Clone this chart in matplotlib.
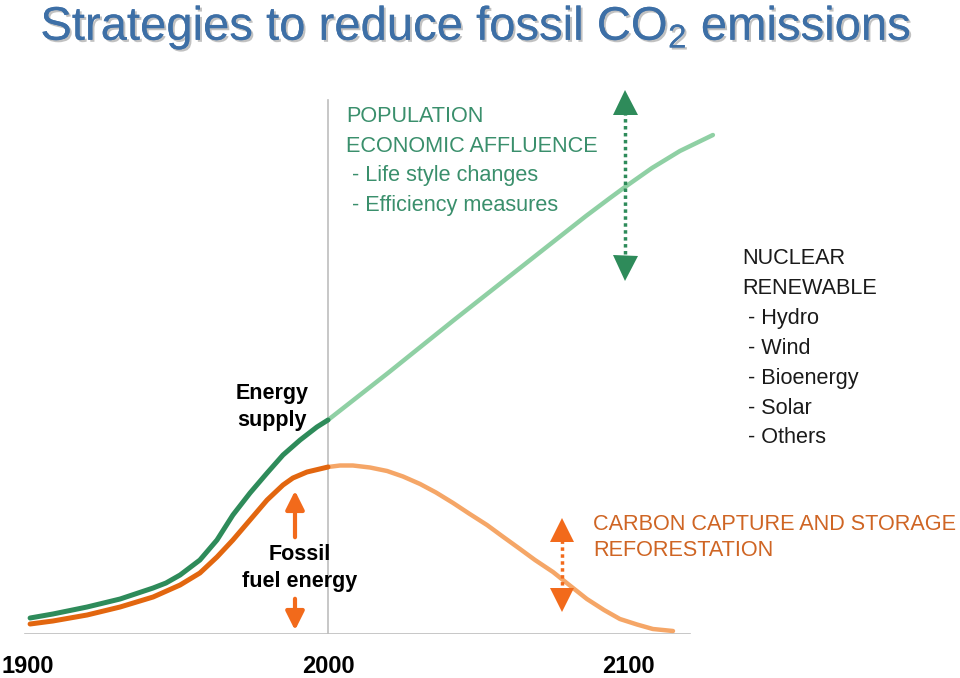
import matplotlib
matplotlib.use("Agg")
import matplotlib.pyplot as plt
import matplotlib.patheffects as pe
from matplotlib import font_manager

# energy supply (baseline = 0)
supply_years = [1900.7, 1908.3, 1919.7, 1930.7, 1941.7, 1946, 1950.7, 1957.3, 1963, 1968.3,
                1974, 1979.7, 1985, 1990.7, 1996.3, 2000]
supply_vals = [16, 20, 27, 35, 46, 51, 59, 74, 94, 119, 141, 161, 179, 194, 207, 214]
supply_future_years = [2000, 2020, 2042, 2064, 2086, 2094, 2099, 2108, 2117.3, 2128.3]
supply_future_vals = [214, 261, 314, 366, 418, 436, 447, 466, 483, 499]

# fossil fuel energy
fossil_years = [1900.7, 1908.3, 1919.7, 1930.7, 1941.7, 1950.7, 1957.3, 1963, 1968.3,
                1974, 1979.7, 1985, 1988.3, 1993, 2000]
fossil_vals = [10, 13, 19, 27, 37, 49, 61, 77, 94, 114, 134, 149, 156, 162, 167]
fossil_future_years = [2000, 2004, 2008.3, 2014, 2019.7, 2025, 2030.7, 2036, 2041.7, 2047,
                       2053, 2058, 2064, 2069, 2075, 2080, 2086.3, 2092, 2097.3, 2103,
                       2108.3, 2115]
fossil_future_vals = [167, 168.5, 168.5, 166.5, 163, 157.5, 150, 141.5, 131, 120.5, 109,
                      98, 85, 74, 62, 50, 35, 24, 15, 9.5, 5, 3]

tick_years = [1900, 2000, 2100]
tick_labels = ["1900", "2000", "2100"]

green_text = ["POPULATION", "ECONOMIC AFFLUENCE", " - Life style changes", " - Efficiency measures"]
black_text = ["NUCLEAR", "RENEWABLE", " - Hydro", " - Wind", " - Bioenergy", " - Solar", " - Others"]
orange_text = ["CARBON CAPTURE AND STORAGE", "REFORESTATION"]

DK_GREEN = "#2e8b5a"
LT_GREEN = "#8fd0a4"
DK_ORANGE = "#e2660f"
LT_ORANGE = "#f5a667"
TXT_GREEN = "#3a8f6c"
TXT_ORANGE = "#cf6524"
ARR_ORANGE = "#f26a1b"

installed = {f.name for f in font_manager.fontManager.ttflist}
if "Liberation Sans Narrow" in installed:
    title_font, title_size = "Liberation Sans Narrow", 33
else:
    title_font, title_size = "Liberation Sans", 34

fig = plt.figure(figsize=(9.6, 6.78), dpi=100)
ax = fig.add_axes([0, 44 / 678, 1, 634 / 678])
ax.set_xlim(2000 - 328 / 3, 2000 + 632 / 3)
ax.set_ylim(0, 634)
for s in ax.spines.values():
    s.set_visible(False)
ax.set_yticks([])
ax.set_xticks(tick_years)
ax.set_xticklabels(tick_labels, fontsize=17, fontweight="bold", family="Liberation Sans")
ax.tick_params(axis="x", length=0, pad=15)

# baseline and 2000 marker
ax.plot([1899, 2120.7], [0, 0], color="#bdbdbd", lw=1.2)
ax.plot([2000, 2000], [0, 534], color="#bdbdbd", lw=1.2)

kw = dict(solid_capstyle="round", solid_joinstyle="round")
ax.plot(supply_future_years, supply_future_vals, color=LT_GREEN, lw=3.2, **kw)
ax.plot(supply_years, supply_vals, color=DK_GREEN, lw=3.6, **kw)
ax.plot(fossil_future_years, fossil_future_vals, color=LT_ORANGE, lw=3.2, **kw)
ax.plot(fossil_years, fossil_vals, color=DK_ORANGE, lw=3.6, **kw)

# dotted double arrows
ax.plot([2099, 2099], [380, 526], color=DK_GREEN, lw=2.5, ls=(0, (1, 1)))
ax.plot([2099], [532], marker="^", ms=18, color=DK_GREEN, mew=0)
ax.plot([2099], [366], marker="v", ms=18, color=DK_GREEN, mew=0)
ax.plot([2078, 2078], [42, 96], color=ARR_ORANGE, lw=2.5, ls=(0, (1, 1)))
ax.plot([2078], [104], marker="^", ms=17, color=ARR_ORANGE, mew=0)
ax.plot([2078], [34], marker="v", ms=17, color=ARR_ORANGE, mew=0)

# solid fossil arrows
ax.annotate("", xy=(1989, 146), xytext=(1989, 94),
            arrowprops=dict(arrowstyle="-|>", lw=3, color=ARR_ORANGE, mutation_scale=28))
ax.annotate("", xy=(1989, 1), xytext=(1989, 38),
            arrowprops=dict(arrowstyle="-|>", lw=3, color=ARR_ORANGE, mutation_scale=28))

fnt = "Liberation Sans"
ax.text(1981.3, 227, "Energy\nsupply", ha="center", va="center", fontsize=15.5,
        fontweight="bold", family=fnt, linespacing=1.35)
ax.text(1990.7, 66, "Fossil\nfuel energy", ha="center", va="center", fontsize=15.5,
        fontweight="bold", family=fnt, linespacing=1.35)

for i, t in enumerate(green_text):
    ax.text(2006, 517 - i * 29.5, t, ha="left", va="center", fontsize=15.6,
            color=TXT_GREEN, family=fnt)
for i, t in enumerate(black_text):
    ax.text(2138, 375 - i * 29.8, t, ha="left", va="center", fontsize=15.6,
            color="#1a1a1a", family=fnt)
for i, t in enumerate(orange_text):
    ax.text(2088.3, 110 - i * 27, t, ha="left", va="center", fontsize=15.6,
            color=TXT_ORANGE, family=fnt)

fig.text(0.042, 1 - 28 / 678, r"Strategies to reduce fossil CO$_\mathregular{2}$ emissions",
         ha="left", va="center", fontsize=title_size, color="#3d6fa6",
         family=[title_font, "DejaVu Sans"],
         path_effects=[pe.withSimplePatchShadow(offset=(1.5, -1.5), shadow_rgbFace="#999999", alpha=0.6),
                       pe.Normal()])

fig.savefig("out.png", dpi=100)
